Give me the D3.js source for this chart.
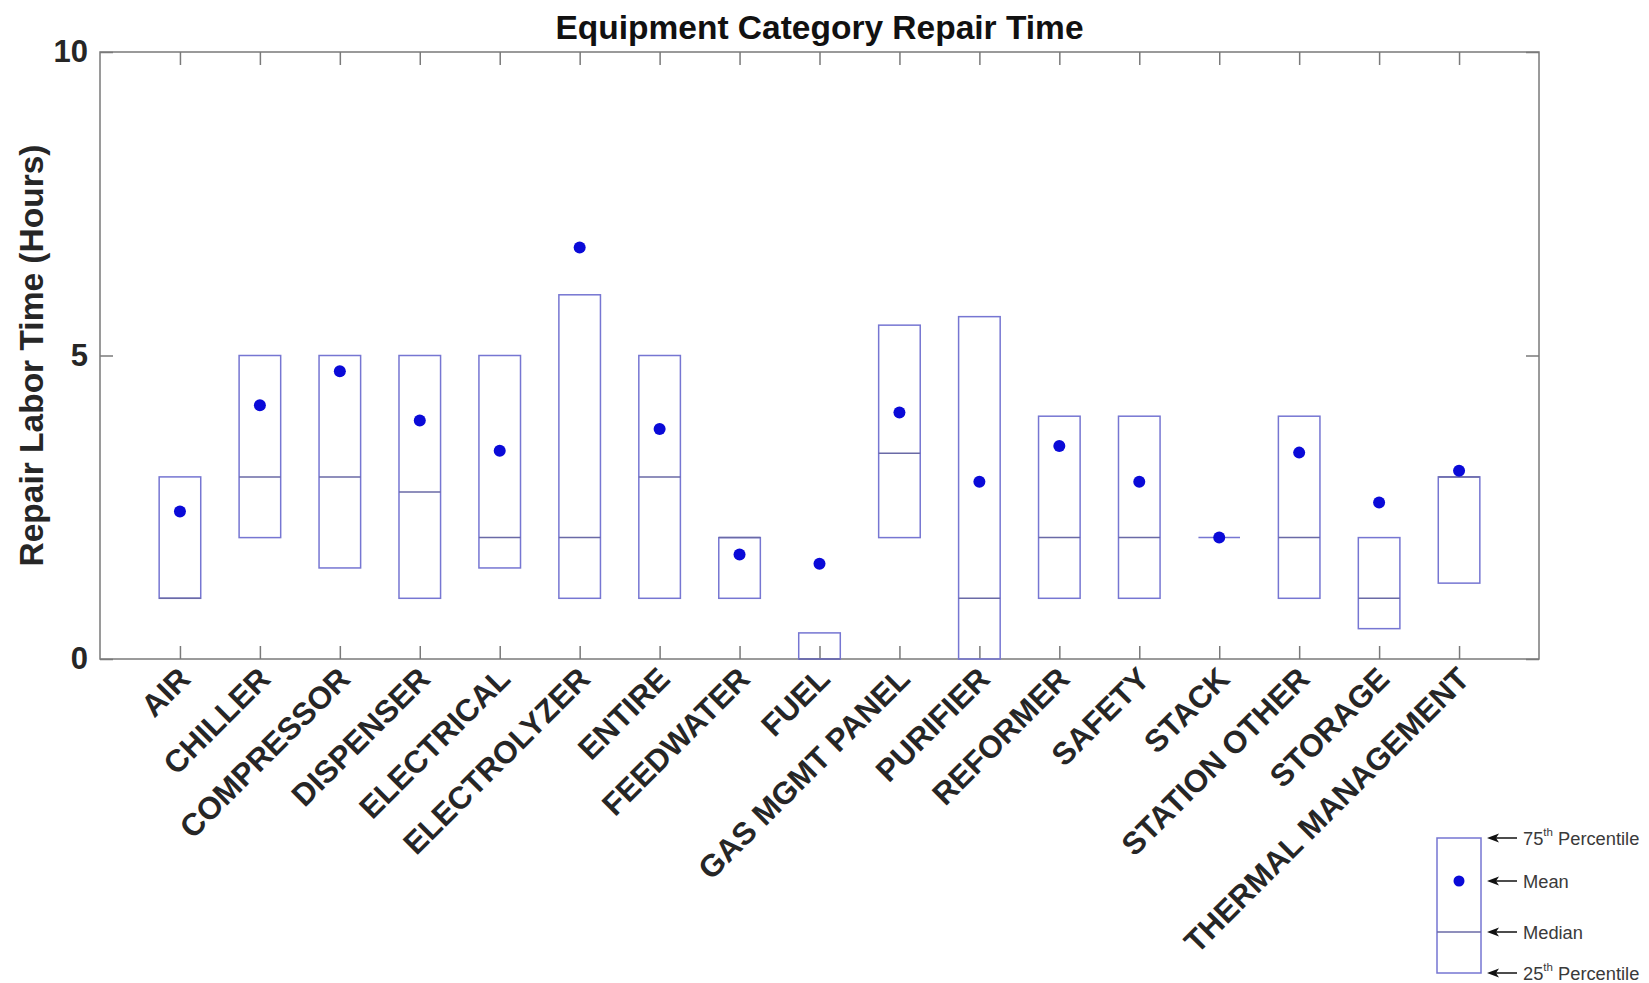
<!DOCTYPE html>
<html><head><meta charset="utf-8">
<script src="https://cdn.jsdelivr.net/npm/d3@7"></script>
<style>body{margin:0;background:#fff} svg{display:block}</style>
</head><body>
<svg id="c" width="1649" height="983"></svg>
<script>
const categories = ["AIR","CHILLER","COMPRESSOR","DISPENSER","ELECTRICAL","ELECTROLYZER","ENTIRE","FEEDWATER","FUEL","GAS MGMT PANEL","PURIFIER","REFORMER","SAFETY","STACK","STATION OTHER","STORAGE","THERMAL MANAGEMENT"];
const q1Values     = [1, 2, 1.5, 1, 1.5, 1, 1, 1, 0, 2, 0, 1, 1, 2, 1, 0.5, 1.25];
const medianValues = [1, 3, 3, 2.75, 2, 2, 3, 2, 0, 3.39, 1, 2, 2, 2, 2, 1, 3];
const q3Values     = [3, 5, 5, 5, 5, 6, 5, 2, 0.43, 5.5, 5.64, 4, 4, 2, 4, 2, 3];
const meanValues   = [2.43, 4.18, 4.74, 3.93, 3.43, 6.78, 3.79, 1.72, 1.57, 4.06, 2.92, 3.51, 2.92, 2, 3.4, 2.58, 3.1];
const yTicks = [0, 5, 10];
const titleText = "Equipment Category Repair Time";
const yLabelText = "Repair Labor Time (Hours)";

const font = '"Liberation Sans", Arial, Helvetica, sans-serif';
const m = {left:100, right:1539, top:52, bottom:659};
const svg = d3.select('#c');
const boxColor = "#7676d2", medColor = "#6a6aa6", dotColor = "#0a0ad8", axisColor = "#7a7a7a";

const x = d3.scaleLinear().domain([0, categories.length + 1]).range([m.left, m.right]);
const y = d3.scaleLinear().domain([0, 10]).range([m.bottom, m.top]);
const pos = categories.map((c, i) => i + 1);
const halfW = 0.26;

// frame
svg.append("rect").attr("x", m.left).attr("y", m.top)
  .attr("width", m.right - m.left).attr("height", m.bottom - m.top)
  .attr("fill", "none").attr("stroke", axisColor).attr("stroke-width", 1.5);

function styleAxis(g){
  g.select(".domain").remove();
  g.selectAll(".tick line").attr("stroke", axisColor).attr("stroke-width", 1.5);
  g.selectAll(".tick text").attr("font-family", font).attr("font-weight", "bold")
    .attr("font-size", 31).attr("fill", "#262626");
}
svg.append("g").attr("transform", `translate(0,${m.bottom})`)
  .call(d3.axisBottom(x).tickValues(pos).tickSize(-13).tickSizeOuter(0).tickFormat(""))
  .call(styleAxis);
svg.append("g").attr("transform", `translate(0,${m.top})`)
  .call(d3.axisTop(x).tickValues(pos).tickSize(-13).tickSizeOuter(0).tickFormat(""))
  .call(styleAxis);
svg.append("g").attr("transform", `translate(${m.left},0)`)
  .call(d3.axisLeft(y).tickValues(yTicks).tickSize(-13).tickSizeOuter(0).tickPadding(12).tickFormat(d3.format("d")))
  .call(styleAxis);
svg.append("g").attr("transform", `translate(${m.right},0)`)
  .call(d3.axisRight(y).tickValues(yTicks).tickSize(-13).tickSizeOuter(0).tickFormat(""))
  .call(styleAxis);

// x labels
svg.append("g").selectAll("text").data(categories).join("text")
  .attr("transform", (d, i) => `translate(${x(pos[i]) + 4.5},${m.bottom + 14}) rotate(-45)`)
  .attr("text-anchor", "end").attr("dy", "0.35em")
  .attr("font-family", font).attr("font-weight", "bold").attr("font-size", 31.2).attr("fill", "#262626")
  .text(d => d);

// boxes
const boxes = svg.append("g");
categories.forEach((c, i) => {
  const x0 = x(pos[i] - halfW), x1 = x(pos[i] + halfW);
  if (q3Values[i] > q1Values[i]) {
    boxes.append("rect").attr("x", x0).attr("y", y(q3Values[i]))
      .attr("width", x1 - x0).attr("height", y(q1Values[i]) - y(q3Values[i]))
      .attr("fill", "none").attr("stroke", boxColor).attr("stroke-width", 1.5);
  }
  boxes.append("line").attr("x1", x0).attr("x2", x1)
    .attr("y1", y(medianValues[i])).attr("y2", y(medianValues[i]))
    .attr("stroke", q3Values[i] > q1Values[i] ? medColor : boxColor).attr("stroke-width", 1.5);
});
svg.append("g").selectAll("circle").data(meanValues).join("circle")
  .attr("cx", (d, i) => x(pos[i])).attr("cy", d => y(d)).attr("r", 6).attr("fill", dotColor);

// title & y label
svg.append("text").attr("x", (m.left + m.right) / 2).attr("y", 39)
  .attr("text-anchor", "middle").attr("font-family", font).attr("font-weight", "bold")
  .attr("font-size", 33.5).attr("fill", "#111").text(titleText);
svg.append("text").attr("transform", `translate(43,${(m.top + m.bottom) / 2}) rotate(-90)`)
  .attr("text-anchor", "middle").attr("font-family", font).attr("font-weight", "bold")
  .attr("font-size", 33.5).attr("fill", "#262626").text(yLabelText);

// legend
const lg = svg.append("g");
const L = {x0:1437, x1:1481, top:838, mean:881, med:932, bot:973};
lg.append("rect").attr("x", L.x0).attr("y", L.top).attr("width", L.x1 - L.x0).attr("height", L.bot - L.top)
  .attr("fill", "none").attr("stroke", boxColor).attr("stroke-width", 1.5);
lg.append("line").attr("x1", L.x0).attr("x2", L.x1).attr("y1", L.med).attr("y2", L.med)
  .attr("stroke", medColor).attr("stroke-width", 1.5);
lg.append("circle").attr("cx", (L.x0 + L.x1) / 2).attr("cy", L.mean).attr("r", 5.5).attr("fill", dotColor);
const items = [
  {y: L.top, pre: "75", sup: "th", post: " Percentile"},
  {y: L.mean, pre: "Mean"},
  {y: L.med, pre: "Median"},
  {y: L.bot, pre: "25", sup: "th", post: " Percentile"}
];
items.forEach(it => {
  lg.append("line").attr("x1", 1492).attr("x2", 1517).attr("y1", it.y).attr("y2", it.y)
    .attr("stroke", "#111").attr("stroke-width", 1.5);
  lg.append("path").attr("d", `M1487,${it.y} L1499,${it.y - 4.5} L1496,${it.y} L1499,${it.y + 4.5} Z`)
    .attr("fill", "#111");
  const t = lg.append("text").attr("x", 1523).attr("y", it.y).attr("dy", "0.36em")
    .attr("font-family", font).attr("font-size", 18.3).attr("fill", "#3a3a3a");
  t.append("tspan").text(it.pre);
  if (it.sup) {
    t.append("tspan").attr("font-size", 11.5).attr("dy", "-0.75em").text(it.sup);
    t.append("tspan").attr("dy", "0.5em").text(it.post);
  }
});
</script>
</body></html>
